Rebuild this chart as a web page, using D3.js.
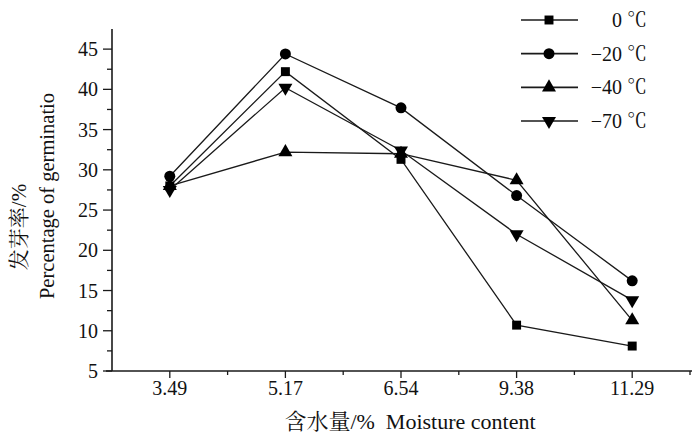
<!DOCTYPE html>
<html>
<head>
<meta charset="utf-8">
<script src="https://cdn.jsdelivr.net/npm/d3@7/dist/d3.min.js"></script>
<style>
  html, body { margin: 0; padding: 0; background: #fff; }
  svg { display: block; }
  text { font-family: "Liberation Serif", "Times New Roman", "Noto Serif CJK SC", "Noto Sans CJK SC", serif; fill: #111; }
</style>
</head>
<body>
<svg id="chart" width="692" height="436"></svg>
<script>
// Moisture content categories (x axis)
const moisture = ["3.49", "5.17", "6.54", "9.38", "11.29"];
// Germination percentage per storage temperature
const t0   = [28.0, 42.2, 31.3, 10.7, 8.1];
const t20  = [29.2, 44.4, 37.7, 26.8, 16.2];
const t40  = [28.0, 32.2, 32.0, 28.7, 11.3];
const t70  = [27.5, 40.2, 32.4, 22.0, 13.8];
const seriesNames = ["0 \u2103", "\u221220 \u2103", "\u221240 \u2103", "\u221270 \u2103"];
const seriesValues = [t0, t20, t40, t70];
const markerKinds = ["square", "circle", "triangle", "triangleDown"];
const yTicks = [5, 10, 15, 20, 25, 30, 35, 40, 45];

const svg = d3.select("#chart");
const ink = "#1a1a1a";
const fs = 20;

const x = d3.scaleBand().domain(moisture).range([112, 690]);
const xc = d => x(d) + x.bandwidth() / 2;
const y = d3.scaleLinear().domain([5, 47.5]).range([371, 29]);

// y axis: major ticks every 5, minor every 2.5
const yAxis = svg.append("g").attr("transform", "translate(112,0)");
yAxis.append("line").attr("x1", 0).attr("x2", 0).attr("y1", y(47.5)).attr("y2", y(5))
  .attr("stroke", ink).attr("stroke-width", 1.6);
const yMinor = d3.range(7.5, 47.5, 5);
yAxis.selectAll("line.minor").data(yMinor).join("line").attr("class", "minor")
  .attr("x1", -5).attr("x2", 0).attr("y1", d => y(d)).attr("y2", d => y(d))
  .attr("stroke", ink).attr("stroke-width", 1.3);
yAxis.selectAll("line.major").data(yTicks).join("line").attr("class", "major")
  .attr("x1", -9).attr("x2", 0).attr("y1", d => y(d)).attr("y2", d => y(d))
  .attr("stroke", ink).attr("stroke-width", 1.3);
yAxis.selectAll("text").data(yTicks).join("text")
  .attr("x", -14).attr("y", d => y(d)).attr("dy", "0.35em")
  .attr("text-anchor", "end").attr("font-size", fs).text(d => d);

// x axis: ticks at category centres, minor ticks at band edges
const xAxis = svg.append("g").attr("transform", "translate(0,371)");
xAxis.append("line").attr("x1", 106).attr("x2", 692).attr("y1", 0).attr("y2", 0)
  .attr("stroke", ink).attr("stroke-width", 1.6);
xAxis.selectAll("line.major").data(moisture).join("line").attr("class", "major")
  .attr("x1", d => xc(d)).attr("x2", d => xc(d)).attr("y1", 0).attr("y2", 7)
  .attr("stroke", ink).attr("stroke-width", 1.3);
xAxis.selectAll("line.minor").data(moisture).join("line").attr("class", "minor")
  .attr("x1", d => x(d) + x.bandwidth()).attr("x2", d => x(d) + x.bandwidth())
  .attr("y1", 0).attr("y2", 4)
  .attr("stroke", ink).attr("stroke-width", 1.3);
xAxis.selectAll("text").data(moisture).join("text")
  .attr("x", d => xc(d)).attr("y", 24)
  .attr("text-anchor", "middle").attr("font-size", fs).text(d => d);

// axis titles
svg.append("text").attr("x", 410).attr("y", 429).attr("text-anchor", "middle")
  .attr("font-size", 22).attr("xml:space", "preserve")
  .text("\u542b\u6c34\u91cf/%  Moisture content");
svg.append("text").attr("transform", "translate(26,227) rotate(-90)")
  .attr("text-anchor", "middle").attr("font-size", 21).text("\u53d1\u82bd\u7387/%");
svg.append("text").attr("transform", "translate(54,196) rotate(-90)")
  .attr("text-anchor", "middle").attr("font-size", 20.5).text("Percentage of germinatio");

// marker shapes
const symbols = {
  square: d3.symbol().type(d3.symbolSquare).size(80),
  circle: d3.symbol().type(d3.symbolCircle).size(95),
  triangle: d3.symbol().type(d3.symbolTriangle).size(85),
  triangleDown: d3.symbol().type(d3.symbolTriangle).size(85)
};
function drawMarker(g, kind, cx, cy) {
  g.append("path").attr("d", symbols[kind]())
    .attr("transform", `translate(${cx},${cy})` + (kind === "triangleDown" ? " rotate(180)" : ""))
    .attr("fill", "#000");
}

const line = d3.line().x((d, i) => xc(moisture[i])).y(d => y(d));
const plot = svg.append("g");
seriesValues.forEach((vals, s) => {
  plot.append("path").datum(vals).attr("d", line)
    .attr("fill", "none").attr("stroke", ink).attr("stroke-width", 1.3);
});
seriesValues.forEach((vals, s) => {
  vals.forEach((v, i) => drawMarker(plot, markerKinds[s], xc(moisture[i]), y(v)));
});

// legend
const legend = svg.append("g");
const legendY = d3.scaleLinear().domain([0, 3]).range([20, 121]);
seriesNames.forEach((name, s) => {
  const ly = legendY(s);
  legend.append("line").attr("x1", 521).attr("x2", 578).attr("y1", ly).attr("y2", ly)
    .attr("stroke", ink).attr("stroke-width", 1.6);
  drawMarker(legend, markerKinds[s], 549, ly);
  legend.append("text").attr("x", 647).attr("y", ly).attr("dy", "0.35em")
    .attr("text-anchor", "end").attr("font-size", fs).text(name);
});
</script>
</body>
</html>
